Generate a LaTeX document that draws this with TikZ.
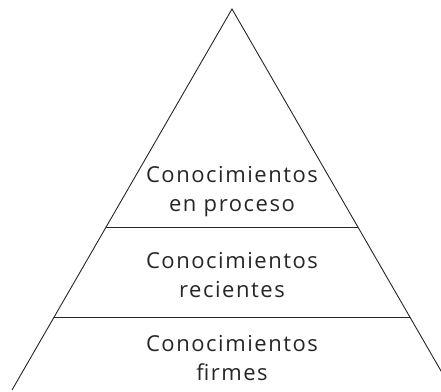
\documentclass[tikz,border=0pt]{standalone}
\usepackage{fontspec}
\setmainfont{Open Sans}[LetterSpace=7]
\begin{document}
\begin{tikzpicture}[x=1pt,y=1pt,
  edge/.style={line width=0.9pt, draw=black!85},
  label/.style={align=center, font=\fontsize{22}{29}\selectfont, text=black!85, inner sep=0pt}]
\useasboundingbox (0,0) rectangle (441,391);
\clip (0,0) rectangle (441,391);
\coordinate (A) at (232,382);
\coordinate (L) at (12,1);
\coordinate (R) at (452,1);
\coordinate (m1l) at (106,164);
\coordinate (m1r) at (358,164);
\coordinate (m2l) at (54,74);
\coordinate (m2r) at (410,74);
\draw[edge] (L) -- (A) -- (R);
\draw[edge] (m1l) -- (m1r);
\draw[edge] (m2l) -- (m2r);
\node[label, anchor=base] (t1) at (232,179) {Conocimientos\\en proceso};
\node[label, anchor=base] (t2) at (232,94) {Conocimientos\\recientes};
\node[label, anchor=base] (t3) at (232,11) {Conocimientos\\firmes};
\end{tikzpicture}
\end{document}
